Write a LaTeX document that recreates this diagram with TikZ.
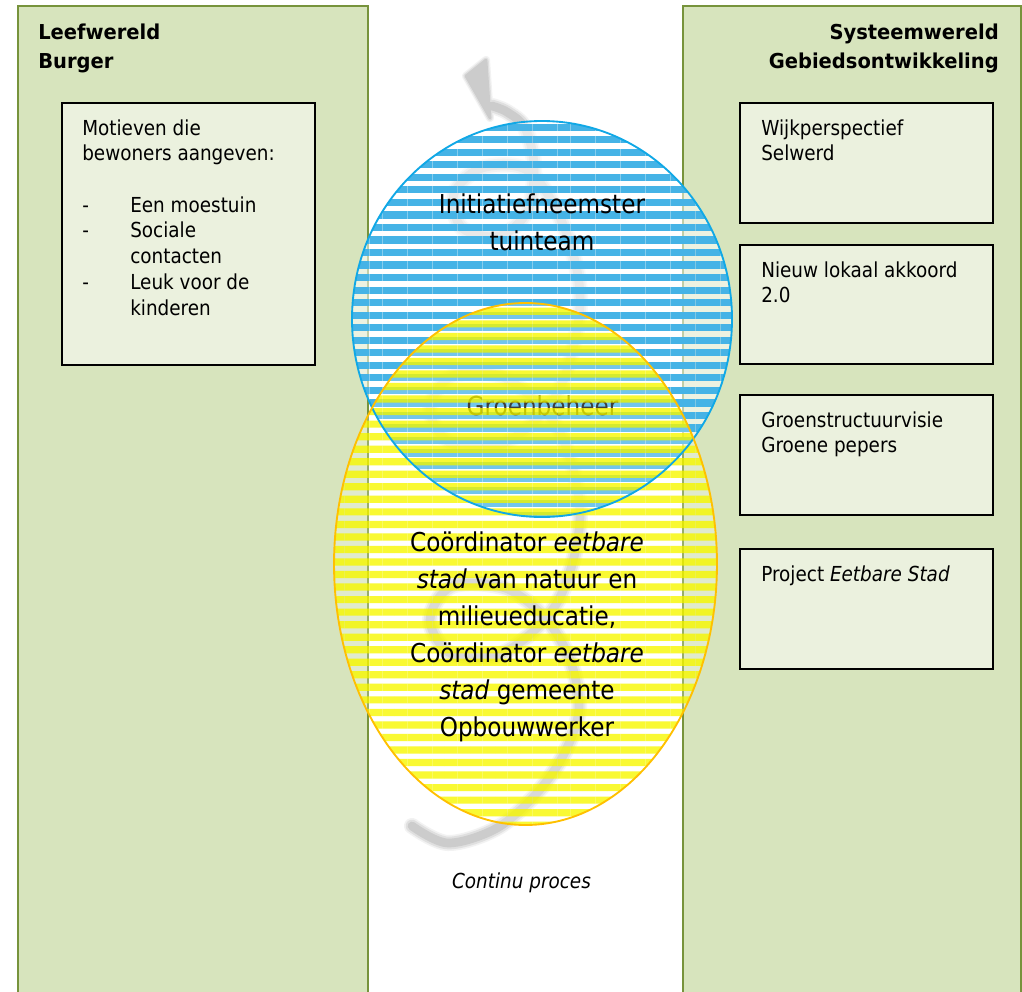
\documentclass[tikz,border=0pt]{standalone}
\usepackage{fontspec}
\setmainfont{DejaVu Sans}[FakeStretch=0.89]
\newfontfamily\headfont{DejaVu Sans}[FakeStretch=0.95]
\usetikzlibrary{patterns.meta}

\definecolor{panelfill}{HTML}{D7E4BD}
\definecolor{panelline}{HTML}{77933C}
\definecolor{boxfill}{HTML}{EBF1DE}
\definecolor{bluestripe}{HTML}{45B3E6}
\definecolor{blueline}{HTML}{10A8E6}
\definecolor{yellowstripe}{HTML}{F8F800}
\definecolor{yellowline}{HTML}{FFC000}
\definecolor{spiralA}{HTML}{F2F2F2}
\definecolor{spiralB}{HTML}{E0E0E0}
\definecolor{spiralC}{HTML}{CCCCCC}

\begin{document}
\begin{tikzpicture}[x=0.75pt, y=-0.75pt,
  panel/.style={fill=panelfill, draw=panelline, line width=1.5pt},
  infobox/.style={draw=black, fill=boxfill, line width=1.05pt, inner sep=0pt},
  body/.style={font=\fontsize{15.5pt}{19.3pt}\selectfont, inner sep=0pt},
  big/.style={font=\fontsize{19.5pt}{27.75pt}\selectfont, inner sep=0pt, anchor=base},
  head/.style={font=\headfont\bfseries\fontsize{15.4pt}{21.75pt}\selectfont, inner sep=0pt},
  stripes/.style={pattern={Lines[angle=0, distance=9.4pt, line width=5.4pt, yshift=#1]}},
]
\useasboundingbox (0,0) rectangle (1022,992);
\fill[white] (0,0) rectangle (1022,992);

\begin{scope}
\clip (0,0) rectangle (1022,992);
% the two worlds
\draw[panel] (18,6) rectangle (368,1010);
\draw[panel] (683,6) rectangle (1020.5,1010);
\end{scope}

% headings
\node[head, anchor=base west] (lefthead) at (38,39)
  {\begin{tabular}[t]{@{}l@{}}Leefwereld\\Burger\end{tabular}};
\node[head, anchor=base east] (righthead) at (999,39)
  {\begin{tabular}[t]{@{}r@{}}Systeemwereld\\Gebiedsontwikkeling\end{tabular}};

% boxes
\node[infobox, minimum width=189.75pt, minimum height=196.5pt] (motives) at (188.5,234) {};
\node[infobox, minimum width=189.75pt, minimum height=90pt] (wijk) at (866.5,163) {};
\node[infobox, minimum width=189.75pt, minimum height=89.25pt] (akkoord) at (866.5,304.5) {};
\node[infobox, minimum width=189.75pt, minimum height=90pt] (groen) at (866.5,455) {};
\node[infobox, minimum width=189.75pt, minimum height=90pt] (project) at (866.5,609) {};

\node[body, anchor=base west] (motivestext) at (82,135)
  {\begin{tabular}[t]{@{}p{36pt}@{}l@{}}
   \multicolumn{2}{@{}l@{}}{Motieven die}\\
   \multicolumn{2}{@{}l@{}}{bewoners aangeven:}\\
   \\
   - & Een moestuin\\
   - & Sociale\\
     & contacten\\
   - & Leuk voor de\\
     & kinderen
   \end{tabular}};
\node[body, anchor=base west] (wijktext) at (761,135)
  {\begin{tabular}[t]{@{}l@{}}Wijkperspectief\\Selwerd\end{tabular}};
\node[body, anchor=base west] (akkoordtext) at (761,277)
  {\begin{tabular}[t]{@{}l@{}}Nieuw lokaal akkoord\\2.0\end{tabular}};
\node[body, anchor=base west] (groentext) at (761,427)
  {\begin{tabular}[t]{@{}l@{}}Groenstructuurvisie\\Groene pepers\end{tabular}};
\node[body, anchor=base west] (projecttext) at (761,581)
  {Project \textit{Eetbare Stad}};

% grey spiral arrow of the continuous process
\foreach \w/\h/\c in {12pt/6pt/spiralA, 9.5pt/4pt/spiralB, 6.5pt/2pt/spiralC} {
  \draw[line width=\w, color=\c, line cap=round, line join=round]
    plot[smooth, tension=0.55] coordinates {
      (412,826) (448,843) (497,828) (537,793) (565,752) (579,708)
      (570,660) (545,618) (505,588) (452,586) (430,620) (452,654)
      (505,652) (558,601) (580,515) (558,429) (505,378) (452,376)
      (430,410) (452,444) (505,443) (558,392) (580,305) (566,232)
      (530,172) (482,168) (454,194) (462,228) (500,236) (528,210)
      (534,165) (525,128) (507,112) (492,106)};
  \filldraw[draw=\c, fill=\c, line width=\h, line join=round]
    (486,60) -- (466,76) -- (490,118) -- cycle;
}

\coordinate (bc) at (542,319);
\coordinate (yc) at (525.5,564);

% blue ellipse
\fill[white, opacity=0.55] (bc) ellipse [x radius=142.5pt, y radius=148.5pt];
\fill[stripes=0pt, pattern color=bluestripe] (bc) ellipse [x radius=142.5pt, y radius=148.5pt];
\node[big] (initiatief) at (542,213)
  {\begin{tabular}[t]{@{}c@{}}Initiatiefneemster\\tuinteam\end{tabular}};
\node[big] (groenbeheer) at (542.5,415) {Groenbeheer};

% yellow ellipse, its stripes letting the layer below shine through
\begin{scope}[transparency group, opacity=0.8]
\fill[white, opacity=0.3] (yc) ellipse [x radius=143.6pt, y radius=195.75pt];
\fill[stripes=1.5pt, pattern color=yellowstripe] (yc) ellipse [x radius=143.6pt, y radius=195.75pt];
\end{scope}

% outlines
\draw[blueline, line width=1.4pt] (bc) ellipse [x radius=142.5pt, y radius=148.5pt];
\draw[yellowline, line width=1.4pt] (yc) ellipse [x radius=143.6pt, y radius=195.75pt];

\node[big] (coord) at (527,551)
  {\begin{tabular}[t]{@{}c@{}}Coördinator \textit{eetbare}\\
   \textit{stad} van natuur en\\
   milieueducatie,\\
   Coördinator \textit{eetbare}\\
   \textit{stad} gemeente\\
   Opbouwwerker\end{tabular}};

\node[body, anchor=base] (proces) at (521.5,888) {\textit{Continu proces}};
\end{tikzpicture}
\end{document}
